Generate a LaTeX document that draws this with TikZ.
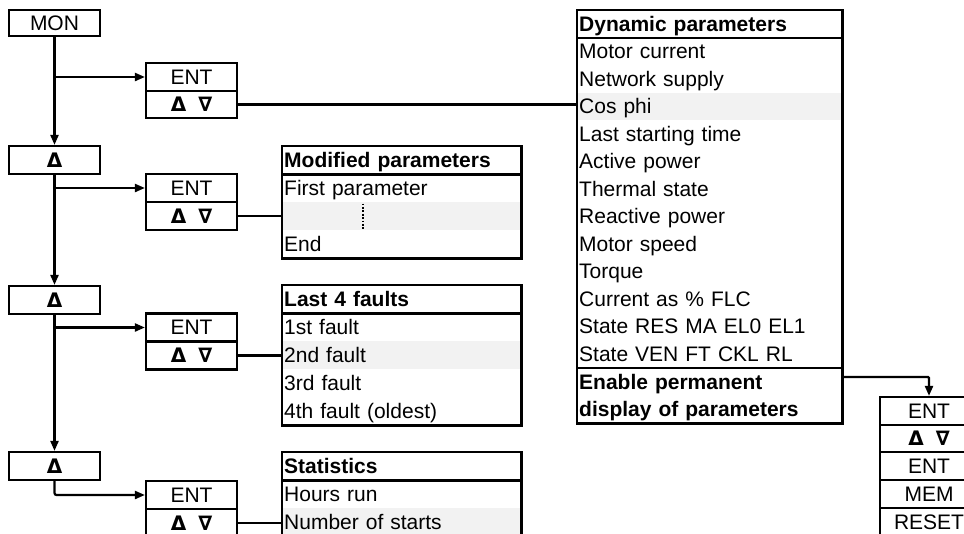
\documentclass[tikz,border=0pt]{standalone}
\usepackage{fontspec}
\setmainfont{Liberation Sans}
\newfontfamily\symfont{DejaVu Sans}
\usetikzlibrary{arrows.meta}
\definecolor{shadegray}{RGB}{242,242,242}
\newcommand\symup{{\symfont\bfseries\fontsize{20}{20}\selectfont Δ}}
\newcommand\updn{{\symfont\bfseries\fontsize{20}{20}\selectfont Δ\hspace{12pt}∇}}
\begin{document}
\begin{tikzpicture}[x=1pt,y=-1pt,
  every node/.style={font=\fontsize{21}{27.5}\selectfont, inner sep=0pt},
  btn/.style={draw, line width=2.2pt, minimum width=91pt, minimum height=27.5pt},
  rbtn/.style={draw, line width=2.2pt, minimum width=98pt, minimum height=28pt},
  row/.style={anchor=north west, inner xsep=2pt, inner ysep=0pt, minimum height=28pt, align=left, text height=17.5pt, text depth=3pt},
  drow/.style={row, text width=261pt, minimum height=27.5pt},
  mrow/.style={row, text width=235pt},
  shaded/.style={fill=shadegray},
  ln/.style={line width=2.2pt},
  arr/.style={line width=2.2pt, -{Triangle[length=10pt,width=8pt]}},
]
\useasboundingbox (0,0) rectangle (964,533);
\clip (0,0) rectangle (964,533);

% left column buttons
\node[btn, minimum height=26pt] (mon) at (54.5,23) {MON};
\node[btn, minimum height=28pt] (up1) at (54.5,160) {\symup};
\node[btn, minimum height=28pt] (up2) at (54.5,300) {\symup};
\node[btn, minimum height=28pt] (up3) at (54.5,466) {\symup};

% ENT / updown pairs
\node[btn, minimum height=28pt] (ent1) at (191.5,77) {ENT};
\node[btn] (ud1) at (191.5,104.5) {\updn};
\node[btn, minimum height=28pt] (ent2) at (191.5,188) {ENT};
\node[btn, minimum height=28pt] (ud2) at (191.5,216) {\updn};
\node[btn, minimum height=28pt] (ent3) at (191.5,327.5) {ENT};
\node[btn, minimum height=28pt] (ud3) at (191.5,355.5) {\updn};
\node[btn, minimum height=28pt] (ent4) at (191.5,495) {ENT};
\node[btn, minimum height=28pt] (ud4) at (191.5,523) {\updn};

% right column
\node[rbtn] (r1) at (929,411) {ENT};
\node[rbtn, minimum height=27pt] (r2) at (929,438.5) {\updn};
\node[rbtn] (r3) at (929,466) {ENT};
\node[rbtn] (r4) at (929,494) {MEM};
\node[rbtn] (r5) at (929,522) {RESET};

% Modified parameters
\node[mrow] (m0) at (282,146) {\bfseries Modified parameters};
\node[mrow] (m1) at (282,174) {First parameter};
\node[mrow, shaded] (m2) at (282,202) {};
\node[mrow] (m3) at (282,230) {End};
\draw[ln] (m0.north west) rectangle (m3.south east);
\draw[ln] (m0.south west) -- (m0.south east);
\draw[line width=2pt, dash pattern=on 1.8pt off 1.6pt] (363,203.5) -- (363,229);

% Last 4 faults
\node[mrow] (l0) at (282,285) {\bfseries Last 4 faults};
\node[mrow] (l1) at (282,313) {1st fault};
\node[mrow, shaded] (l2) at (282,341) {2nd fault};
\node[mrow] (l3) at (282,369) {3rd fault};
\node[mrow] (l4) at (282,397) {4th fault (oldest)};
\draw[ln] (l0.north west) rectangle (l4.south east);
\draw[ln] (l0.south west) -- (l0.south east);

% Statistics
\node[mrow] (s0) at (282,452) {\bfseries Statistics};
\node[mrow] (s1) at (282,480) {Hours run};
\node[mrow, shaded] (s2) at (282,508) {Number of starts};
\draw[ln] (s0.north west) rectangle (s2.south east);
\draw[ln] (s0.south west) -- (s0.south east);

% Dynamic parameters
\node[drow] (d0) at (577,10) {\bfseries Dynamic parameters};
\node[drow] (d1) at (577,37.5) {Motor current};
\node[drow] (d2) at (577,65) {Network supply};
\node[drow, shaded] (d3) at (577,92.5) {Cos phi};
\node[drow] (d4) at (577,120) {Last starting time};
\node[drow] (d5) at (577,147.5) {Active power};
\node[drow] (d6) at (577,175) {Thermal state};
\node[drow] (d7) at (577,202.5) {Reactive power};
\node[drow] (d8) at (577,230) {Motor speed};
\node[drow] (d9) at (577,257.5) {Torque};
\node[drow] (d10) at (577,285) {Current as \% FLC};
\node[drow] (d11) at (577,312.5) {State RES MA EL0 EL1};
\node[drow] (d12) at (577,340) {State VEN FT CKL RL};
\node[drow] (d13) at (577,368) {\bfseries Enable permanent};
\node[drow] (d14) at (577,395.5) {\bfseries display of parameters};
\draw[ln] (d0.north west) rectangle (d14.south east);
\draw[ln] (d0.south west) -- (d0.south east);
\draw[ln] (d13.north west) -- (d13.north east);

% connectors
\draw[arr] (mon.south) -- (up1.north);
\draw[arr] (mon.south |- ent1.west) -- (ent1.west);
\draw[ln] (ud1.east) -- (ud1.east -| d0.west);
\draw[arr] (up1.south) -- (up2.north);
\draw[arr] (up1.south |- ent2.west) -- (ent2.west);
\draw[ln] (ud2.east) -- (ud2.east -| m0.west);
\draw[arr] (up2.south) -- (up3.north);
\draw[arr] (up2.south |- ent3.west) -- (ent3.west);
\draw[ln] (ud3.east) -- (ud3.east -| l0.west);
\draw[arr, rounded corners=2pt] (up3.south) |- (ent4.west);
\draw[ln] (ud4.east) -- (ud4.east -| s0.west);
\draw[arr, rounded corners=1pt] ([yshift=-9pt]d13.north east) -| (r1.north);
\end{tikzpicture}
\end{document}
